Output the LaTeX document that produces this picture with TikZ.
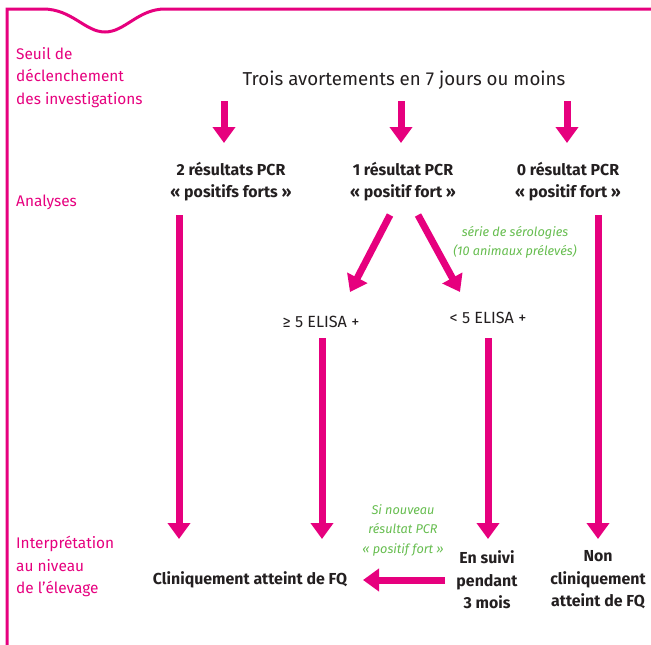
\documentclass[tikz,border=0pt]{standalone}
\usepackage{fontspec}
\setmainfont{Fira Sans}
\usetikzlibrary{arrows.meta}
\definecolor{fqpink}{RGB}{230,0,126}
\definecolor{fqgreen}{RGB}{102,189,79}
\definecolor{fqtext}{RGB}{35,31,32}
\begin{document}
\begin{tikzpicture}[x=1pt,y=-1pt,
  bigarrow/.style={draw=fqpink, line width=7pt, -{Triangle[length=16pt,width=22pt]}},
  lab/.style={text=fqpink, font=\fontsize{15.4}{22.5}\selectfont, align=left, anchor=west, inner sep=0pt},
  res/.style={text=fqtext, font=\bfseries\fontsize{15.9}{22.5}\selectfont, align=center, inner sep=0pt},
  note/.style={text=fqgreen, font=\itshape\fontsize{12.7}{19.5}\selectfont, align=center, inner sep=0pt},
  plainlab/.style={text=fqtext, font=\fontsize{16.2}{20}\selectfont, inner sep=0pt}]
\useasboundingbox (0,0) rectangle (651,645);
% frame
\draw[fqpink, line width=3pt] (7,645) -- (7,9) -- (43,9)
  .. controls (72,9) and (85,32) .. (105,32)
  .. controls (125,32) and (138,9) .. (165,9) -- (651,9);
% left labels
\node[lab] (l1) at (16,77.5) {Seuil de\\déclenchement\\des investigations};
\node[lab] (l2) at (16,202) {Analyses};
\node[lab] (l3) at (16,566.5) {Interprétation\\au niveau\\de l’élevage};
% title
\node[plainlab, font=\fontsize{18.7}{20}\selectfont] (title) at (404,80) {Trois avortements en 7 jours ou moins};
% PCR results
\node[res] (p2) at (231,181.5) {2 résultats PCR\\« positifs forts »};
\node[res] (p1) at (403,181.5) {1 résultat PCR\\« positif fort »};
\node[res] (p0) at (568,181.5) {0 résultat PCR\\« positif fort »};
% ELISA
\node[plainlab] (e5) at (321,322) {≥ 5 ELISA +};
\node[plainlab] (e4) at (488,318) {< 5 ELISA +};
% notes
\node[note] (n1) at (515,242.5) {série de sérologies\\(10 animaux prélevés)};
\node[note] (n2) at (403,530) {Si nouveau\\résultat PCR\\« positif fort »};
% outcomes
\node[res] (c1) at (250,580) {Cliniquement atteint de FQ};
\node[res] (c2) at (487,580) {En suivi\\pendant\\3 mois};
\node[res] (c3) at (598,580) {Non\\cliniquement\\atteint de FQ};
% arrow coordinates
\coordinate (t2) at (224,101); \coordinate (h2) at (224,143);
\coordinate (t1) at (401,101); \coordinate (h1) at (401,143);
\coordinate (t0) at (567,101); \coordinate (h0) at (567,143);
\coordinate (s2) at (179,215); \coordinate (f2) at (179,539);
\coordinate (s0) at (598,215); \coordinate (f0) at (598,539);
\coordinate (da) at (390,215); \coordinate (db) at (350,292);
\coordinate (dc) at (418,215); \coordinate (dd) at (460,292);
\coordinate (s5) at (322,338); \coordinate (f5) at (322,539);
\coordinate (s4) at (488,338); \coordinate (f4) at (488,539);
\coordinate (hs) at (445,580); \coordinate (he) at (363,580);
\draw[bigarrow] (t2) -- (h2);
\draw[bigarrow] (t1) -- (h1);
\draw[bigarrow] (t0) -- (h0);
\draw[bigarrow] (s2) -- (f2);
\draw[bigarrow] (s0) -- (f0);
\draw[bigarrow] (da) -- (db);
\draw[bigarrow] (dc) -- (dd);
\draw[bigarrow] (s5) -- (f5);
\draw[bigarrow] (s4) -- (f4);
\draw[bigarrow] (hs) -- (he);
\end{tikzpicture}
\end{document}
